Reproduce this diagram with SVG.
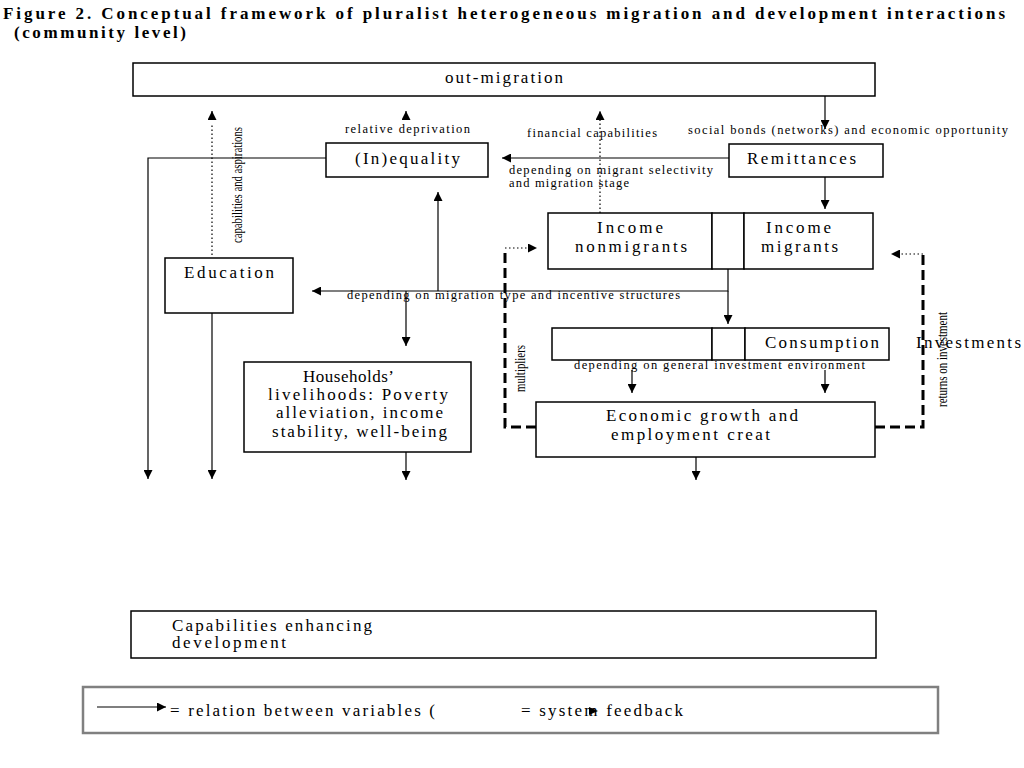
<svg xmlns="http://www.w3.org/2000/svg" width="1024" height="768" viewBox="0 0 1024 768">
<style>
text{font-family:"Liberation Serif","Times New Roman",serif;fill:#000}
.t{font-size:17px}
.s{font-size:12.5px}
.v{font-size:14px}
.h{font-size:17px;font-weight:bold}
.box{fill:#fff;stroke:#000;stroke-width:1.5}
.ln{fill:none;stroke:#000;stroke-width:1.2}
.dot{fill:none;stroke:#000;stroke-width:1.2;stroke-dasharray:1.5 2.5}
.dash{fill:none;stroke:#000;stroke-width:3;stroke-dasharray:10 5}
</style>
<defs>
<marker id="a" markerUnits="userSpaceOnUse" markerWidth="10" markerHeight="9" refX="9" refY="4.5" orient="auto">
<path d="M0,0 L9,4.5 L0,9 z" fill="#000"/>
</marker>
</defs>
<rect width="1024" height="768" fill="#fff"/>
<g id="title">
<text class="h" x="3" y="19" textLength="1002" lengthAdjust="spacing">Figure 2. Conceptual framework of pluralist heterogeneous migration and development interactions</text>
<text class="h" x="14" y="38" textLength="172" lengthAdjust="spacing">(community level)</text>
</g>
<g id="connectors">
<line class="ln" x1="825" y1="96" x2="825" y2="129" marker-end="url(#a)"/>
<line class="ln" x1="825" y1="177" x2="825" y2="209" marker-end="url(#a)"/>
<line class="ln" x1="729" y1="158" x2="502" y2="158" marker-end="url(#a)"/>
<polyline class="ln" points="326,158 148,158 148,479" marker-end="url(#a)"/>
<line class="ln" x1="406" y1="119" x2="406" y2="111" marker-end="url(#a)"/>
<line class="dot" x1="212" y1="255" x2="212" y2="123"/>
<line class="ln" x1="212" y1="119" x2="212" y2="111" marker-end="url(#a)"/>
<line class="dot" x1="600" y1="213" x2="600" y2="111" marker-end="url(#a)"/>
<polyline class="ln" points="728,269 728,291 312,291" marker-end="url(#a)"/>
<line class="ln" x1="728" y1="291" x2="728" y2="324" marker-end="url(#a)"/>
<line class="ln" x1="438" y1="291" x2="438" y2="192" marker-end="url(#a)"/>
<line class="ln" x1="406" y1="291" x2="406" y2="346" marker-end="url(#a)"/>
<line class="ln" x1="212" y1="313" x2="212" y2="479" marker-end="url(#a)"/>
<line class="ln" x1="406" y1="452" x2="406" y2="480" marker-end="url(#a)"/>
<line class="ln" x1="632" y1="370" x2="632" y2="393" marker-end="url(#a)"/>
<line class="ln" x1="825" y1="370" x2="825" y2="393" marker-end="url(#a)"/>
<line class="ln" x1="696" y1="457" x2="696" y2="480" marker-end="url(#a)"/>
<polyline class="dash" points="536,427 505,427 505,248"/>
<line class="dot" x1="505" y1="248" x2="537" y2="248" marker-end="url(#a)"/>
<polyline class="dash" points="875,427 923,427 923,254"/>
<line class="dot" x1="923" y1="254" x2="891" y2="254" marker-end="url(#a)"/>
</g>
<g id="labels">
<text class="s" x="345" y="133" textLength="125" lengthAdjust="spacing">relative deprivation</text>
<text class="s" x="527" y="137" textLength="130" lengthAdjust="spacing">financial capabilities</text>
<text class="s" x="688" y="134" textLength="320" lengthAdjust="spacing">social bonds (networks) and economic opportunity</text>
<text class="s" x="509" y="174" textLength="204" lengthAdjust="spacing">depending on migrant selectivity</text>
<text class="s" x="509" y="187" textLength="120" lengthAdjust="spacing">and migration stage</text>
<text class="s" x="347" y="299" textLength="333" lengthAdjust="spacing">depending on migration type and incentive structures</text>
<text class="s" x="574" y="369" textLength="291" lengthAdjust="spacing">depending on general investment environment</text>
<text class="v" transform="translate(242,243) rotate(-90)" textLength="116" lengthAdjust="spacingAndGlyphs">capabilities and aspirations</text>
<text class="v" transform="translate(525,392) rotate(-90)" textLength="47" lengthAdjust="spacingAndGlyphs">multipliers</text>
<text class="v" transform="translate(947,407) rotate(-90)" textLength="95" lengthAdjust="spacingAndGlyphs">returns on investment</text>
<text class="t" x="916" y="348" textLength="105" lengthAdjust="spacing">Investments</text>
</g>
<g id="out-migration">
<rect class="box" x="133" y="63" width="742" height="33"/>
<text class="t" x="445" y="83" textLength="118" lengthAdjust="spacing">out-migration</text>
</g>
<g id="remittances">
<rect class="box" x="729" y="144" width="154" height="33"/>
<text class="t" x="747" y="164" textLength="109" lengthAdjust="spacing">Remittances</text>
</g>
<g id="inequality">
<rect class="box" x="326" y="143" width="162" height="34"/>
<text class="t" x="355" y="164" textLength="105" lengthAdjust="spacing">(In)equality</text>
</g>
<g id="income">
<rect class="box" x="548" y="213" width="164" height="56"/>
<rect class="box" x="712" y="213" width="32" height="56"/>
<rect class="box" x="744" y="213" width="129" height="56"/>
<text class="t" x="597" y="233" textLength="66" lengthAdjust="spacing">Income</text>
<text class="t" x="575" y="252" textLength="112" lengthAdjust="spacing">nonmigrants</text>
<text class="t" x="766" y="233" textLength="65" lengthAdjust="spacing">Income</text>
<text class="t" x="761" y="252" textLength="77" lengthAdjust="spacing">migrants</text>
</g>
<g id="education">
<rect class="box" x="165" y="258" width="128" height="55"/>
<text class="t" x="184" y="278" textLength="90" lengthAdjust="spacing">Education</text>
</g>
<g id="consumption">
<rect class="box" x="552" y="328" width="160" height="32"/>
<rect class="box" x="712" y="328" width="33" height="32"/>
<rect class="box" x="745" y="328" width="144" height="32"/>
<text class="t" x="765" y="348" textLength="114" lengthAdjust="spacing">Consumption</text>
</g>
<g id="households">
<rect class="box" x="244" y="362" width="227" height="90"/>
<text class="t" x="303" y="382" textLength="91" lengthAdjust="spacing">Households’</text>
<text class="t" x="268" y="400" textLength="180" lengthAdjust="spacing">livelihoods: Poverty</text>
<text class="t" x="276" y="418" textLength="167" lengthAdjust="spacing">alleviation, income</text>
<text class="t" x="272" y="437" textLength="175" lengthAdjust="spacing">stability, well-being</text>
</g>
<g id="economic-growth">
<rect class="box" x="536" y="402" width="339" height="55"/>
<text class="t" x="606" y="421" textLength="192" lengthAdjust="spacing">Economic growth and</text>
<text class="t" x="611" y="440" textLength="159" lengthAdjust="spacing">employment creat</text>
</g>
<g id="capabilities">
<rect class="box" x="131" y="611" width="745" height="47"/>
<text class="t" x="172" y="631" textLength="200" lengthAdjust="spacing">Capabilities enhancing</text>
<text class="t" x="172" y="648" textLength="114" lengthAdjust="spacing">development</text>
</g>
<g id="legend">
<rect x="83" y="687" width="855" height="46" fill="#fff" stroke="#808080" stroke-width="2.5"/>
<line class="ln" x1="97" y1="707" x2="166" y2="707" marker-end="url(#a)"/>
<text class="t" x="170" y="716" textLength="265" lengthAdjust="spacing">= relation between variables (</text>
<text class="t" x="521" y="716" textLength="162" lengthAdjust="spacing">= system feedback</text>
<path d="M589,707 L598,711 L589,715 z" fill="#000"/>
</g>
</svg>
